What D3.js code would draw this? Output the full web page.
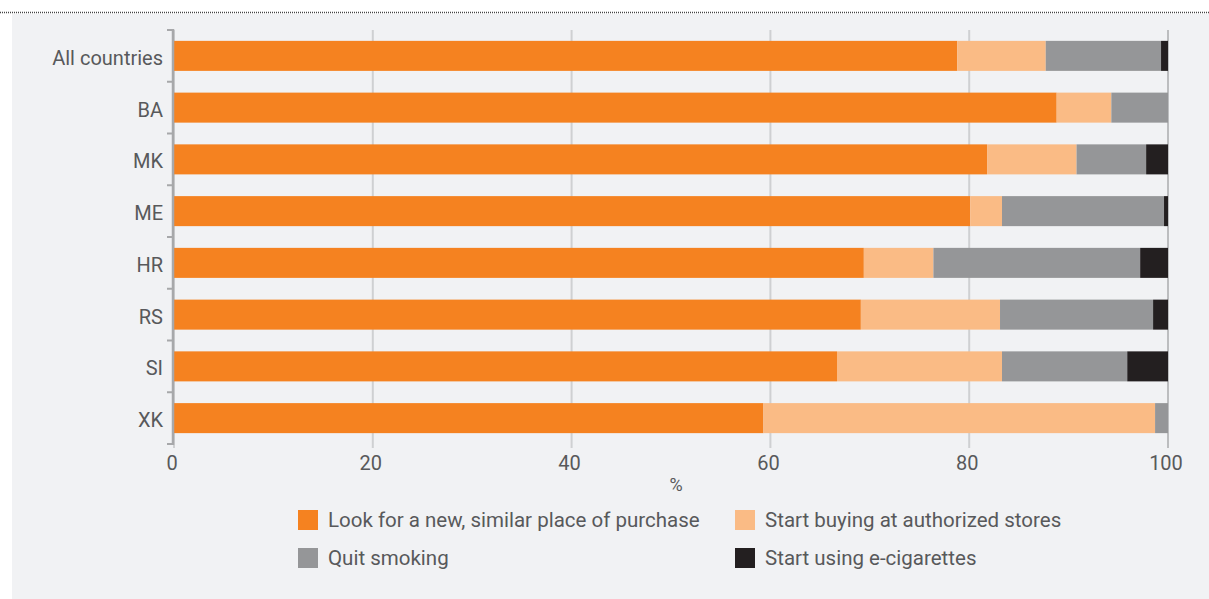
<!DOCTYPE html>
<html><head><meta charset="utf-8">
<script src="https://cdn.jsdelivr.net/npm/d3@7"></script>
<style>
body{margin:0;background:#fff;}
text{font-family:Roboto,"Liberation Sans",sans-serif;}
</style></head>
<body><svg id="c" width="1209" height="599"></svg>
<script>
const categories = ["All countries","BA","MK","ME","HR","RS","SI","XK"];
const seriesNames = ["Look for a new, similar place of purchase","Start buying at authorized stores","Quit smoking","Start using e-cigarettes"];
const lookNew   = [78.8, 88.8, 81.8, 80.1, 69.4, 69.1, 66.7, 59.3];
const authStore = [ 8.9,  5.5,  9.0,  3.2,  7.0, 14.0, 16.6, 39.4];
const quit      = [11.6,  5.7,  7.0, 16.3, 20.8, 15.4, 12.6,  1.3];
const eCig      = [ 0.7,  0.0,  2.2,  0.4,  2.8,  1.5,  4.1,  0.0];
const xTicks = [0,20,40,60,80,100];
const colors = ["#f58220","#fabb85","#959698","#231f20"];

const svg = d3.select("#c");
// panel
svg.append("rect").attr("x",12).attr("y",14).attr("width",1197).attr("height",585).attr("fill","#f1f2f4");
svg.append("line").attr("x1",0).attr("x2",1209).attr("y1",12.5).attr("y2",12.5)
  .attr("stroke","#444").attr("stroke-width",1.5).attr("stroke-dasharray","1,1");

const x = d3.scaleLinear().domain([0,100]).range([174,1168]);
const y = d3.scaleBand().domain(categories).range([30,444]).paddingInner(0.42).paddingOuter(0.21);

// gridlines
svg.append("g").selectAll("line").data(xTicks).join("line")
  .attr("x1",d=>x(d)).attr("x2",d=>x(d)).attr("y1",30).attr("y2",448)
  .attr("stroke",d=>d===100?"#bcbdbf":"#cfd0d2").attr("stroke-width",2);

// stacked data
const rows = categories.map((c,i)=>({cat:c, v:[lookNew[i],authStore[i],quit[i],eCig[i]]}));
const keys = [0,1,2,3];
const stack = d3.stack().keys(keys).value((d,k)=>d.v[k]);
const layers = stack(rows);
svg.append("g").selectAll("g").data(layers).join("g")
  .attr("fill",(d,i)=>colors[i])
  .selectAll("rect").data(d=>d).join("rect")
  .attr("x",d=>x(d[0])).attr("width",d=>Math.max(0,x(d[1])-x(d[0])))
  .attr("y",d=>y(d.data.cat)).attr("height",y.bandwidth());

// y axis line with ticks at band boundaries
const step = y.step();
const bounds = d3.range(categories.length+1).map(i=>30+i*step);
const ya = svg.append("g");
ya.append("line").attr("x1",173).attr("x2",173).attr("y1",29).attr("y2",445)
  .attr("stroke","#a7a8aa").attr("stroke-width",2.5);
ya.selectAll("line.t").data(bounds).join("line").attr("class","t")
  .attr("x1",167).attr("x2",173).attr("y1",d=>d).attr("y2",d=>d)
  .attr("stroke","#a7a8aa").attr("stroke-width",2);
ya.selectAll("text").data(categories).join("text")
  .attr("x",163).attr("y",d=>y(d)+y.bandwidth()/2+2).attr("dy","0.35em")
  .attr("text-anchor","end").attr("fill","#58595b").attr("font-size",20).text(d=>d);

// x tick labels
svg.append("g").selectAll("text").data(xTicks).join("text")
  .attr("x",d=>x(d)-2).attr("y",470).attr("text-anchor","middle")
  .attr("fill","#58595b").attr("font-size",20).text(d=>d);
svg.append("text").attr("x",676).attr("y",491).attr("text-anchor","middle")
  .attr("fill","#58595b").attr("font-size",18).text("%");

// legend
const legPos = [[298,520],[735,520],[298,558],[735,558]];
const lg = svg.append("g").selectAll("g").data(seriesNames).join("g")
  .attr("transform",(d,i)=>`translate(${legPos[i][0]},${legPos[i][1]})`);
lg.append("rect").attr("x",0).attr("y",-10).attr("width",20).attr("height",20).attr("fill",(d,i)=>colors[i]);
lg.append("text").attr("x",30).attr("y",0).attr("dy","0.35em").attr("fill","#58595b").attr("font-size",20.5).text(d=>d);
</script></body></html>
